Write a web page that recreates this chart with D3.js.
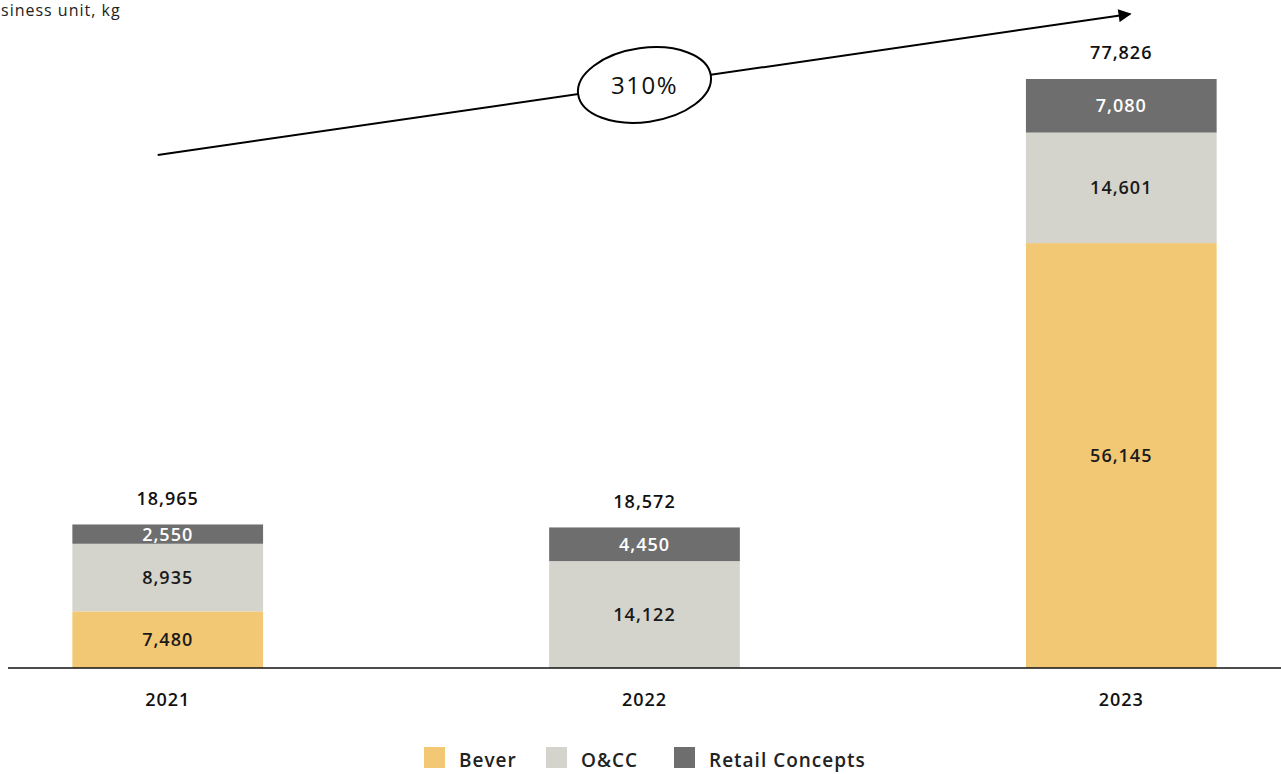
<!DOCTYPE html>
<html>
<head>
<meta charset="utf-8">
<script src="https://cdn.jsdelivr.net/npm/d3@7"></script>
<style>
  body { margin: 0; background: #fff; }
  svg { display: block; font-family: "Open Sans", "Noto Sans", sans-serif; letter-spacing: 1px; }
</style>
</head>
<body>
<div id="chart"></div>
<script>
// Data
var years = ['2021', '2022', '2023'];
var units = ['Bever', 'O&CC', 'Retail Concepts'];
var bever = [7480, 0, 56145];
var occ = [8935, 14122, 14601];
var retail = [2550, 4450, 7080];
var growthLabel = '310%';

var width = 1281, height = 774;
var font = '"Open Sans", "Noto Sans", sans-serif';

// Colours per business unit
var color = d3.scaleOrdinal()
    .domain(units)
    .range(['#f2c875', '#d4d4cc', '#6e6e6e']);

var rows = years.map(function(y, i) {
  return {year: y, 'Bever': bever[i], 'O&CC': occ[i], 'Retail Concepts': retail[i]};
});
var totals = rows.map(function(d) { return d['Bever'] + d['O&CC'] + d['Retail Concepts']; });

var stack = d3.stack().keys(units);
var series = stack(rows);

var x = d3.scaleBand().domain(years).range([8, 1281]).paddingInner(0.6).paddingOuter(0.135);
var y = d3.scaleLinear().domain([0, d3.max(totals)]).range([668, 79]);

var fmt = d3.format(',');

var svg = d3.select('#chart').append('svg')
    .attr('width', width)
    .attr('height', height);

// Title (only its tail is visible in the source)
svg.append('text')
    .attr('x', 1)
    .attr('y', 16)
    .attr('font-size', 16)
    .attr('fill', '#222')
    .text('siness unit, kg');

// Bars
var groups = svg.selectAll('g.series')
    .data(series)
    .enter().append('g')
    .attr('class', 'series')
    .attr('fill', function(d) { return color(d.key); });

groups.selectAll('rect')
    .data(function(d) { return d.filter(function(s) { return s[1] - s[0] > 0; }); })
    .enter().append('rect')
    .attr('x', function(d) { return x(d.data.year); })
    .attr('y', function(d) { return y(d[1]); })
    .attr('width', x.bandwidth())
    .attr('height', function(d) { return y(d[0]) - y(d[1]); });

// Segment labels
series.forEach(function(s) {
  svg.selectAll(null)
      .data(s.filter(function(d) { return d[1] - d[0] > 0; }))
      .enter().append('text')
      .attr('x', function(d) { return x(d.data.year) + x.bandwidth() / 2; })
      .attr('y', function(d) { return (y(d[0]) + y(d[1])) / 2; })
      .attr('dy', '0.36em')
      .attr('text-anchor', 'middle')
      .attr('font-size', 18)
      .attr('font-weight', 600)
      .attr('fill', s.key == 'Retail Concepts' ? '#fff' : '#1a1a1a')
      .text(function(d) { return fmt(d[1] - d[0]); });
});

// Totals
svg.selectAll('text.total')
    .data(totals)
    .enter().append('text')
    .attr('class', 'total')
    .attr('x', function(d, i) { return x(years[i]) + x.bandwidth() / 2; })
    .attr('y', function(d) { return y(d) - 26; })
    .attr('dy', '0.36em')
    .attr('text-anchor', 'middle')
    .attr('font-size', 18)
    .attr('font-weight', 600)
    .attr('fill', '#111')
    .text(function(d) { return fmt(d); });

// Baseline axis
svg.append('g')
    .attr('transform', 'translate(0,' + y(0) + ')')
    .call(d3.axisBottom(x).tickSize(0).tickPadding(25))
    .call(function(g) {
      g.select('.domain').attr('stroke', '#111').attr('stroke-width', 1.6)
        .attr('d', 'M8,0H1281');
      g.selectAll('text')
        .attr('font-family', font)
        .attr('font-size', 18)
        .attr('font-weight', 600)
        .attr('fill', '#111');
    });

// Growth arrow
svg.append('defs').append('marker')
    .attr('id', 'arrowhead')
    .attr('viewBox', '0 0 10 10')
    .attr('refX', 9).attr('refY', 5)
    .attr('markerWidth', 16).attr('markerHeight', 13)
    .attr('orient', 'auto')
    .attr('markerUnits', 'userSpaceOnUse')
    .append('path')
    .attr('d', 'M0,0L10,5L0,10Z')
    .attr('fill', '#000');

var ax0 = x('2021') + x.bandwidth() / 2 - 10, ay0 = 155;
var ax1 = x('2023') + x.bandwidth() / 2 + 9, ay1 = 14;

svg.append('line')
    .attr('x1', ax0).attr('y1', ay0)
    .attr('x2', ax1).attr('y2', ay1)
    .attr('stroke', '#000')
    .attr('stroke-width', 2)
    .attr('marker-end', 'url(#arrowhead)');

var ex = x('2022') + x.bandwidth() / 2, ey = 85;
svg.append('ellipse')
    .attr('cx', ex).attr('cy', ey)
    .attr('rx', 67).attr('ry', 37)
    .attr('transform', 'rotate(-8,' + ex + ',' + ey + ')')
    .attr('fill', '#fff')
    .attr('stroke', '#000')
    .attr('stroke-width', 2);

svg.append('text')
    .attr('x', ex).attr('y', ey)
    .attr('dy', '0.36em')
    .attr('text-anchor', 'middle')
    .attr('font-size', 24)
    .attr('font-weight', 500)
    .attr('letter-spacing', 1.5)
    .attr('fill', '#111')
    .text(growthLabel);

// Legend
var legendX = [424, 546, 674];
var legend = svg.selectAll('g.legend')
    .data(units)
    .enter().append('g')
    .attr('class', 'legend')
    .attr('transform', function(d, i) { return 'translate(' + legendX[i] + ',747)'; });

legend.append('rect')
    .attr('width', 21).attr('height', 21)
    .attr('fill', function(d) { return color(d); });

legend.append('text')
    .attr('x', 35).attr('y', 13)
    .attr('dy', '0.36em')
    .attr('font-size', 19)
    .attr('font-weight', 600)
    .attr('fill', '#222')
    .text(function(d) { return d; });
</script>
</body>
</html>
